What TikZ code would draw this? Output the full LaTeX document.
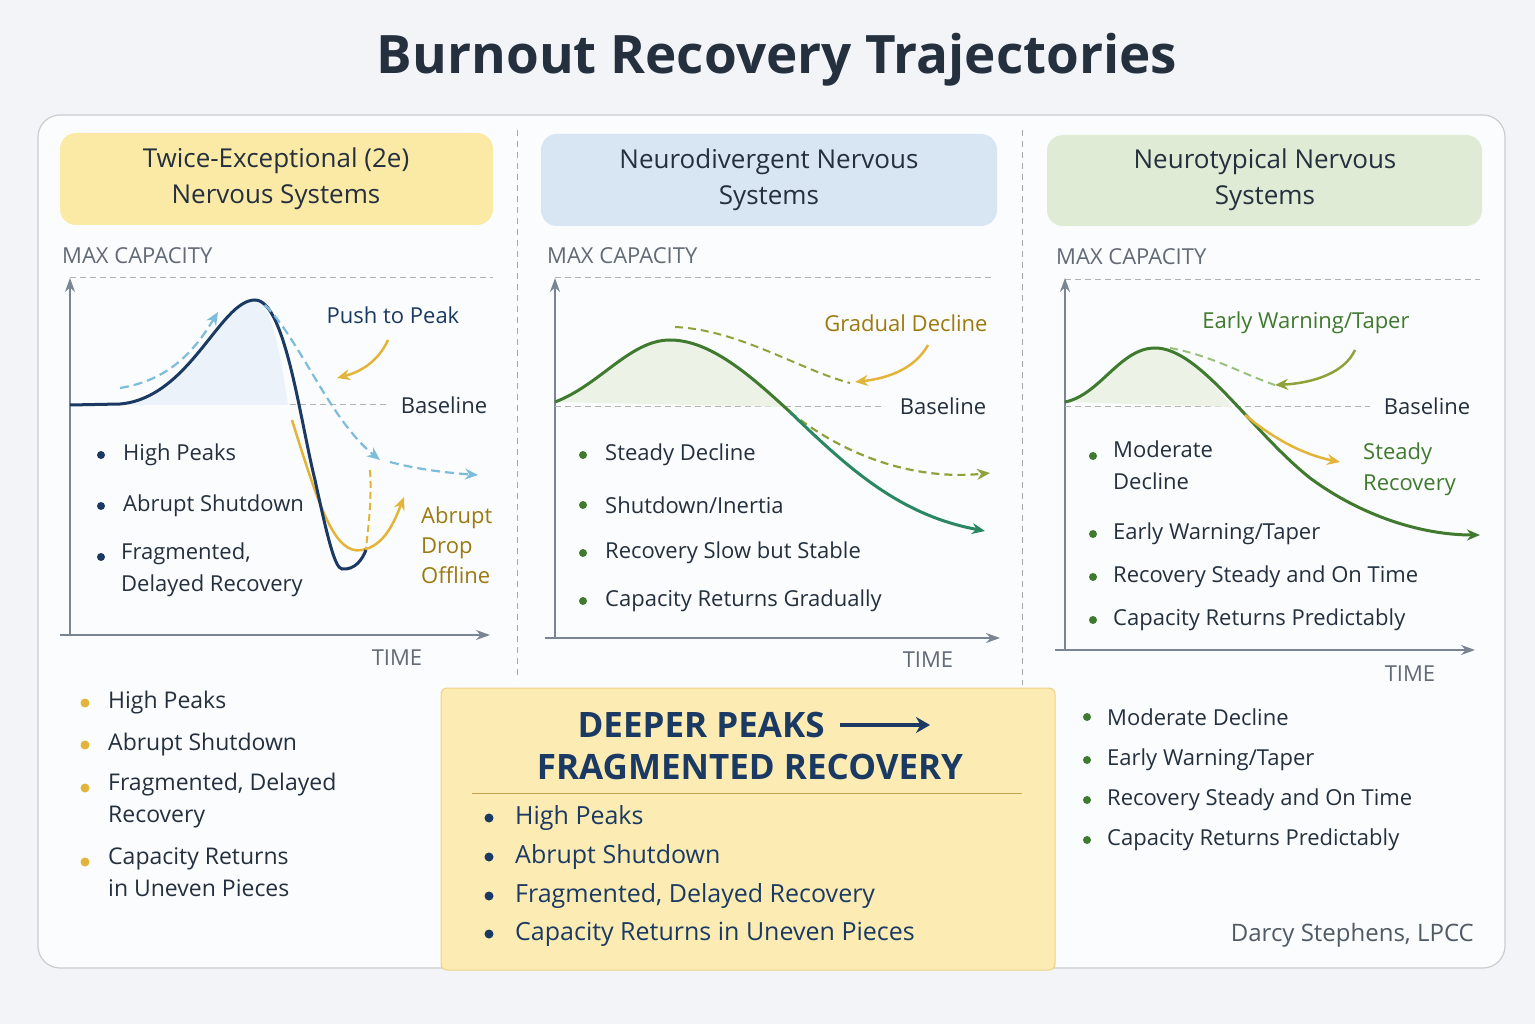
\documentclass[tikz,border=0pt]{standalone}
\usepackage{fontspec}
\setmainfont{Open Sans}
\usetikzlibrary{arrows.meta}
\definecolor{bg}{HTML}{F3F4F7}
\definecolor{navy}{HTML}{1B3A63}
\definecolor{ink}{HTML}{24303E}
\definecolor{axis}{HTML}{7A8594}
\definecolor{gold}{HTML}{E2B43A}
\definecolor{golddk}{HTML}{9C7A10}
\definecolor{lblue}{HTML}{7EBCDC}
\definecolor{grn}{HTML}{3F7A2E}
\definecolor{teal}{HTML}{1F8C7A}
\definecolor{olive}{HTML}{8FA23A}
\definecolor{lgrn}{HTML}{9BC07E}
\definecolor{hy}{HTML}{FBE9A6}
\definecolor{hb}{HTML}{D8E5F2}
\definecolor{hg}{HTML}{DFEBD5}
\tikzset{
 t/.style={font=\fontsize{22}{26}\selectfont,text=ink,inner sep=0pt},
 ax/.style={axis,line width=1.6pt,-{Stealth[length=14pt,width=10pt]}},
 gl/.style={gray!60,dash pattern=on 6pt off 4pt,line width=1pt},
 hdr/.style={rounded corners=16pt,draw=none},
 arr/.style={-{Stealth[length=13pt,width=11pt]}},
}
\begin{document}
\begin{tikzpicture}[x=1pt,y=-1pt]
\useasboundingbox (0,0) rectangle (1535,1024);
\fill[bg] (0,0) rectangle (1535,1024);
\node[font=\fontsize{53}{60}\selectfont\bfseries,text=ink] (title) at (777,60) {Burnout Recovery Trajectories};
\draw[gray!40,fill=white!70!bg,line width=1.2pt,rounded corners=22pt] (38,115) rectangle (1505,968);
\draw[gray!70,dash pattern=on 6pt off 5pt] (517,130) -- (517,680);
\draw[gray!70,dash pattern=on 6pt off 5pt] (1022,130) -- (1022,685);
% headers
\fill[hy,hdr] (60,133) rectangle (493,225);
\node[font=\fontsize{26}{36}\selectfont,text=ink,align=center] (h1) at (276,179) {Twice-Exceptional (2e)\\Nervous Systems};
\fill[hb,hdr] (541,134) rectangle (997,226);
\node[font=\fontsize{26}{36}\selectfont,text=ink,align=center] (h2) at (769,180) {Neurodivergent Nervous\\Systems};
\fill[hg,hdr] (1047,135) rectangle (1482,226);
\node[font=\fontsize{26}{36}\selectfont,text=ink,align=center] (h3) at (1265,180) {Neurotypical Nervous\\Systems};
% ===== panel 1
\node[t,anchor=west,text=axis!80!black] (m1) at (62,256) {MAX CAPACITY};
\draw[gl] (70,278) -- (493,278);
\draw[ax] (70,635) -- (70,278);
\draw[ax] (60,635) -- (490,635);
\node[t,text=axis!80!black] (tm1) at (397,658) {TIME};
\draw[gl] (70,405) -- (390,405);
\node[t] (b1) at (444,405) {Baseline};
\fill[hb!50] (70,405) -- (120,404) .. controls (190,398) and (220,300) .. (255,300) .. controls (270,300) and (280,350) .. (288,405) -- cycle;
\draw[gold,line width=2.5pt,arr] (292,420) .. controls (320,510) and (335,555) .. (362,550) .. controls (385,546) and (395,520) .. (404,497);
\draw[gold,line width=2pt,dash pattern=on 7pt off 4pt] (370,470) .. controls (372,500) and (368,530) .. (366,548);
\draw[navy,line width=3pt] (70,405) -- (120,404) .. controls (190,398) and (220,300) .. (255,300) .. controls (285,300) and (300,420) .. (315,480) .. controls (328,540) and (335,568) .. (342,569) .. controls (355,570) and (362,560) .. (366,550);
\draw[lblue,line width=2.2pt,dash pattern=on 9pt off 5pt,arr] (120,388) .. controls (170,380) and (195,350) .. (218,312);
\draw[lblue,line width=2.2pt,dash pattern=on 9pt off 5pt,arr] (265,305) .. controls (300,340) and (330,420) .. (380,460);
\draw[lblue,line width=2.2pt,dash pattern=on 9pt off 5pt,arr] (390,462) .. controls (420,470) and (450,473) .. (478,475);
\node[t,text=navy] (pp) at (393,315) {Push to Peak};
\draw[gold,line width=2.5pt,arr] (388,340) .. controls (378,362) and (360,372) .. (337,378);
\node[t,text=golddk,align=left,anchor=west,font=\fontsize{22}{30}\selectfont] (ad) at (421,545) {Abrupt\\Drop\\Offline};
\foreach \y/\s in {455/{High Peaks},506/{Abrupt Shutdown}}{\fill[navy] (101,\y) circle (4pt); \node[t,anchor=west] at (123,\y) {\s};}
\fill[navy] (101,557) circle (4pt);
\node[t,anchor=north west,align=left,font=\fontsize{22}{32}\selectfont] (fr) at (121,543) {Fragmented,\\Delayed Recovery};
% below panel 1
\foreach \y/\s in {703/{High Peaks},745/{Abrupt Shutdown}}{\fill[gold] (85,\y) circle (4.5pt); \node[t,anchor=west,font=\fontsize{23}{26}\selectfont] at (108,\y) {\s};}
\fill[gold] (85,788) circle (4.5pt);
\node[t,anchor=north west,align=left,font=\fontsize{23}{32}\selectfont] (f2) at (108,773) {Fragmented, Delayed\\Recovery};
\fill[gold] (85,862) circle (4.5pt);
\node[t,anchor=north west,align=left,font=\fontsize{23}{32}\selectfont] (c2) at (108,847) {Capacity Returns\\in Uneven Pieces};
% ===== panel 2
\node[t,anchor=west,text=axis!80!black] (m2) at (547,256) {MAX CAPACITY};
\draw[gl] (555,278) -- (992,278);
\draw[ax] (555,638) -- (555,278);
\draw[ax] (545,638) -- (1000,638);
\node[t,text=axis!80!black] (tm2) at (928,660) {TIME};
\draw[gl] (555,407) -- (885,407);
\node[t] (b2) at (943,406) {Baseline};
\fill[hg!60] (555,402) .. controls (600,385) and (630,340) .. (670,340) .. controls (710,340) and (750,375) .. (785,407) -- cycle;
\draw[olive,line width=2pt,dash pattern=on 8pt off 5pt] (675,327) .. controls (740,330) and (800,370) .. (850,383);
\draw[olive,line width=2.2pt,dash pattern=on 8pt off 5pt,arr] (790,412) .. controls (850,460) and (920,480) .. (990,473);
\draw[grn,line width=3pt] (555,402) .. controls (600,385) and (630,340) .. (670,340) .. controls (710,340) and (750,375) .. (790,412);
\draw[teal!70!grn,line width=3pt,arr] (790,412) .. controls (850,470) and (900,515) .. (985,531);
\node[t,text=golddk] (gd) at (906,323) {Gradual Decline};
\draw[gold,line width=2.5pt,arr] (928,345) .. controls (915,368) and (890,378) .. (855,382);
\foreach \y/\s in {455/{Steady Decline},505/{Shutdown/Inertia},553/{Recovery Slow but Stable},601/{Capacity Returns Gradually}}{\fill[grn] (583,\y) circle (4pt); \node[t,anchor=west] at (605,\y) {\s};}
% ===== panel 3
\node[t,anchor=west,text=axis!80!black] (m3) at (1056,257) {MAX CAPACITY};
\draw[gl] (1065,280) -- (1480,280);
\draw[ax] (1065,650) -- (1065,278);
\draw[ax] (1055,650) -- (1475,650);
\node[t,text=axis!80!black] (tm3) at (1410,674) {TIME};
\draw[gl] (1065,407) -- (1370,407);
\node[t] (b3) at (1427,406) {Baseline};
\fill[hg!60] (1065,402) .. controls (1100,395) and (1120,348) .. (1155,348) .. controls (1185,348) and (1210,380) .. (1232,407) -- cycle;
\draw[lgrn,line width=2pt,dash pattern=on 8pt off 5pt] (1170,348) .. controls (1210,355) and (1245,375) .. (1275,385);
\draw[grn,line width=3pt,arr] (1065,402) .. controls (1100,395) and (1120,348) .. (1155,348) .. controls (1200,348) and (1250,430) .. (1310,478) .. controls (1360,515) and (1420,535) .. (1480,535);
\draw[gold,line width=2.5pt,arr] (1245,415) .. controls (1275,440) and (1305,455) .. (1340,462);
\draw[olive,line width=2.5pt,arr] (1355,350) .. controls (1345,372) and (1315,383) .. (1275,385);
\node[t,text=grn] (ew) at (1306,323) {Early Warning/Taper};
\node[t,text=grn,anchor=north west,align=left,font=\fontsize{22}{31}\selectfont] (sr) at (1363,443) {Steady\\Recovery};
\fill[grn] (1093,456) circle (4pt);
\node[t,anchor=north west,align=left,font=\fontsize{22}{32}\selectfont] (md) at (1113,441) {Moderate\\Decline};
\foreach \y/\s in {534/{Early Warning/Taper},577/{Recovery Steady and On Time},620/{Capacity Returns Predictably}}{\fill[grn] (1093,\y) circle (4pt); \node[t,anchor=west] at (1113,\y) {\s};}
\foreach \y/\s in {717/{Moderate Decline},760/{Early Warning/Taper},800/{Recovery Steady and On Time},840/{Capacity Returns Predictably}}{\fill[grn] (1087,\y) circle (4pt); \node[t,anchor=west] at (1107,\y) {\s};}
\node[t,anchor=east,font=\fontsize{24}{28}\selectfont,text=ink!80] (auth) at (1474,935) {Darcy Stephens, LPCC};
% ===== center box
\draw[gold!60,fill=hy!85!white,line width=1pt,rounded corners=6pt] (441,688) rectangle (1055,970);
\node[font=\fontsize{35}{40}\selectfont\bfseries,text=navy,anchor=west] (dp) at (574,725) {DEEPER PEAKS};
\coordinate (ar) at (930,725);
\draw[navy,line width=4pt,-{Stealth[length=14pt,width=16pt]}] (dp.east) ++(12,0) -- (ar);
\node[font=\fontsize{35}{40}\selectfont\bfseries,text=navy] (fr2) at (750,767) {FRAGMENTED RECOVERY};
\draw[gold!70!gray,line width=0.8pt] (472,793) -- (1022,793);
\foreach \y/\s in {818/{High Peaks},857/{Abrupt Shutdown},896/{Fragmented, Delayed Recovery},934/{Capacity Returns in Uneven Pieces}}{\fill[navy] (489,\y) circle (4.5pt); \node[t,anchor=west,text=navy,font=\fontsize{25}{28}\selectfont] at (515,\y) {\s};}
\end{tikzpicture}
\end{document}
